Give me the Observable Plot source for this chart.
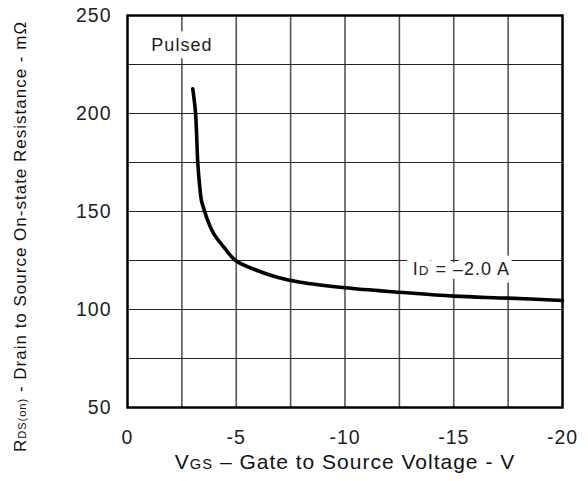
<!DOCTYPE html>
<html><head><meta charset="utf-8">
<script src="https://cdn.jsdelivr.net/npm/d3@7"></script>
<script src="https://cdn.jsdelivr.net/npm/@observablehq/plot@0.6"></script>
<style>body{margin:0;background:#fff} svg{display:block}</style>
</head><body><div id="chart"></div>
<script>
// Gate-source voltage (V) and on-state resistance (mΩ)
const vgs = [-3, -3.13, -3.23, -3.31, -3.4, -3.55, -3.69, -3.97, -4.43, -4.97, -5.96, -6.88, -7.95, -10, -12.5, -15, -17.5, -20];
const rds = [212.6, 200, 175, 164, 155.6, 150, 145.4, 138.6, 131.8, 125, 119.9, 116.5, 113.9, 111.1, 108.8, 106.8, 105.8, 104.6];

const xTicks = [0, -5, -10, -15, -20];
const yTicks = [50, 100, 150, 200, 250];
const xGrid = [-2.5, -5, -7.5, -10, -12.5, -15, -17.5];
const yGrid = [75, 100, 125, 150, 175, 200, 225];

const annoV = [-2.5, -15.35];
const annoR = [235, 120.3];
const annoParts = [
  [["Pulsed", 1]],
  [["I", 1], ["D", 0.75], [" = \u20132.0 A", 1]]
];
const xTitleParts = [["V", 1], ["GS", 0.7], [" \u2013 Gate to Source Voltage - V", 1]];
const yTitleParts = [["R", 1], ["DS(on)", 0.65], [" - Drain to Source On-state Resistance - m\u03A9", 1]];

const join = parts => parts.map(p => p[0]).join("");
const data = vgs.map((v, i) => ({v, r: rds[i]}));
const annos = annoV.map((v, i) => ({v, r: annoR[i], label: join(annoParts[i]), parts: annoParts[i]}));
const xTitle = join(xTitleParts);
const yTitle = join(yTitleParts);

const chart = Plot.plot({
  width: 588, height: 481,
  marginLeft: 127, marginRight: 26, marginTop: 15, marginBottom: 74,
  style: {fontFamily: "'Liberation Sans', Arial, sans-serif", background: "#fff", color: "#222", fontSize: "19.5px", letterSpacing: "1px"},
  x: {domain: [0, -20], ticks: xTicks, tickFormat: d => String(d), tickSize: 0, tickPadding: 23, label: null},
  y: {domain: [50, 250], ticks: yTicks, tickFormat: d => String(d), tickSize: 0, tickPadding: 16, label: null},
  marks: [
    Plot.ruleX(xGrid, {stroke: "#555", strokeWidth: 1.6}),
    Plot.ruleY(yGrid, {stroke: "#222", strokeWidth: 1.2}),
    // white halo behind the annotations, then the annotation text itself
    Plot.text(annos, {x: "v", y: "r", text: "label", fontSize: 18, letterSpacing: "1.2px", fill: "white", stroke: "white", strokeWidth: 15, strokeLinejoin: "round"}),
    Plot.text(annos, {x: "v", y: "r", text: "label", fontSize: 18, letterSpacing: "1.2px", fill: "#222"}),
    Plot.line(data, {x: "v", y: "r", stroke: "#000", strokeWidth: 3.6, curve: "catmull-rom"}),
    Plot.frame({stroke: "#000", strokeWidth: 2.5}),
    Plot.text([xTitle], {text: d => d, frameAnchor: "bottom", dy: 61, fontSize: 21, letterSpacing: "1.2px", fill: "#111"}),
    Plot.text([yTitle], {text: d => d, frameAnchor: "left", textAnchor: "middle", rotate: -90, dx: -106.5, dy: 25, fontSize: 17, fill: "#111", letterSpacing: "1px"})
  ]
});

// render smaller subscript parts as tspans
const partsByText = new Map([[xTitle, xTitleParts], [yTitle, yTitleParts], ...annos.map(a => [a.label, a.parts])]);
d3.select(chart).selectAll("text").each(function() {
  const parts = partsByText.get(this.textContent);
  if (!parts || parts.length < 2) return;
  this.textContent = "";
  for (const [s, k] of parts) {
    const ts = document.createElementNS("http://www.w3.org/2000/svg", "tspan");
    ts.textContent = s;
    if (k !== 1) ts.setAttribute("style", `font-size:${k}em`);
    this.appendChild(ts);
  }
});

document.getElementById("chart").appendChild(chart);
</script>
</body></html>
